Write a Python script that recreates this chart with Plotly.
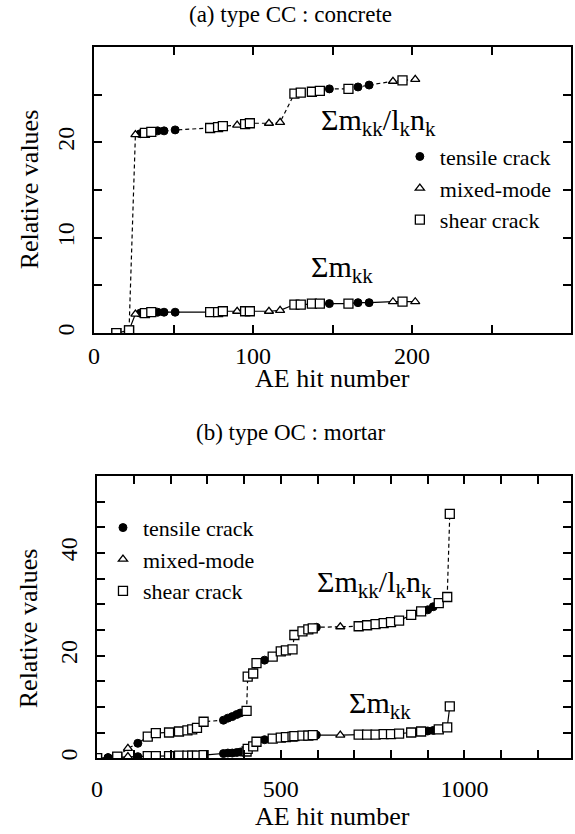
import plotly.graph_objects as go

# ---- panel (a): type CC, concrete ----
a_hits = [14, 22, 26, 29, 32, 36, 40, 44, 51, 73, 78, 81, 90, 95, 98, 110, 117,
          126, 130, 137, 142, 148, 160, 166, 173, 188, 194, 202]
a_type = ["S", "S", "M", "T", "S", "S", "T", "T", "T", "S", "S", "S", "M", "S", "S", "M", "M",
          "S", "S", "S", "S", "T", "S", "T", "T", "M", "S", "M"]
a_ratio = [0, 0.3, 20.8, 20.9, 21.0, 21.1, 21.2, 21.2, 21.3, 21.5, 21.6, 21.7, 21.8, 21.9, 22.0, 22.0, 22.1,
           25.1, 25.2, 25.3, 25.4, 25.6, 25.6, 25.8, 26.0, 26.4, 26.5, 26.6]
a_sum = [0, 0.3, 2.0, 2.1, 2.1, 2.2, 2.2, 2.2, 2.2, 2.2, 2.2, 2.3, 2.3, 2.3, 2.3, 2.3, 2.4,
         3.0, 3.0, 3.1, 3.1, 3.1, 3.1, 3.2, 3.2, 3.3, 3.3, 3.3]

# ---- panel (b): type OC, mortar ----
b_hits = [0, 30, 55, 84, 111, 138, 160, 196, 223, 246, 259, 272, 290, 344, 356,
          368, 380, 390, 407, 410, 425, 434, 456, 478, 500, 514, 532, 537, 559, 575,
          587, 597, 662, 712, 735, 758, 780, 800, 822, 855, 882, 900, 915, 930, 953, 960]
b_type = ["S", "T", "S", "M", "T", "S", "S", "S", "S", "S", "S", "S", "S", "T", "T",
          "T", "T", "T", "S", "S", "S", "S", "T", "S", "S", "S", "S", "S", "S", "S",
          "S", "T", "M", "S", "S", "S", "S", "S", "S", "S", "S", "T", "T", "S", "S", "S"]
b_ratio = [0, 0.1, 0.3, 1.9, 2.9, 4.2, 4.9, 5.0, 5.2, 5.4, 5.6, 5.9, 7.1, 7.4, 7.8,
           8.1, 8.5, 8.8, 9.2, 15.9, 16.5, 18.5, 19.1, 19.8, 20.8, 21.0, 21.2, 24.0, 24.7, 25.1,
           25.3, 25.5, 25.6, 25.7, 25.9, 26.1, 26.3, 26.5, 26.8, 27.9, 28.6, 28.9, 29.5, 30.2, 31.4, 47.6]
b_sum = [0, 0.1, 0.2, 0.3, 0.3, 0.4, 0.4, 0.4, 0.5, 0.5, 0.5, 0.5, 0.6, 0.9, 1.0,
         1.0, 1.1, 1.2, 1.3, 1.8, 2.3, 3.2, 3.6, 3.8, 4.0, 4.1, 4.2, 4.3, 4.4, 4.4,
         4.5, 4.5, 4.5, 4.6, 4.6, 4.6, 4.7, 4.7, 4.8, 5.0, 5.2, 5.3, 5.4, 5.6, 6.0, 10.1]

a_xticks = [0, 50, 100, 150, 200, 250, 300]
a_xtext = ["0", "", "100", "", "200", "", ""]
a_yticks = [0, 5, 10, 15, 20, 25, 30]
a_ytext = ["0", "", "10", "", "20", "", ""]
b_xticks = [0, 100, 200, 300, 400, 500, 600, 700, 800, 900, 1000, 1100, 1200]
b_xtext = ["0", "", "", "", "", "500", "", "", "", "", "1000", "", ""]
b_yticks = [0, 5, 10, 15, 20, 25, 30, 35, 40, 45, 50, 55]
b_ytext = ["0", "", "", "", "20", "", "", "", "40", "", "", ""]

crack_types = [("T", "tensile crack"), ("M", "mixed-mode"), ("S", "shear crack")]
FONT = "Liberation Serif"

marker_style = {
    "T": dict(symbol="circle", size=8, color="black", line=dict(color="black", width=1)),
    "M": dict(symbol="triangle-up", size=8, color="white", line=dict(color="black", width=1.3)),
    "S": dict(symbol="square", size=9, color="white", line=dict(color="black", width=1.3)),
}

fig = go.Figure()


def add_series(hits, kinds, values, xa, ya, dash, legend_name, show_legend):
    fig.add_trace(go.Scatter(
        x=hits, y=values, mode="lines", xaxis=xa, yaxis=ya,
        line=dict(color="black", width=1.2, dash=dash),
        showlegend=False, hoverinfo="skip"))
    for code, name in crack_types:
        xs = [h for h, k in zip(hits, kinds) if k == code]
        ys = [v for v, k in zip(values, kinds) if k == code]
        fig.add_trace(go.Scatter(
            x=xs, y=ys, mode="markers", xaxis=xa, yaxis=ya,
            marker=marker_style[code], name=name,
            legend=legend_name, legendgroup=legend_name + code,
            showlegend=show_legend))


add_series(a_hits, a_type, a_sum, "x", "y", "solid", "legend", False)
add_series(a_hits, a_type, a_ratio, "x", "y", "4px,3px", "legend", True)
add_series(b_hits, b_type, b_sum, "x2", "y2", "solid", "legend2", False)
add_series(b_hits, b_type, b_ratio, "x2", "y2", "4px,3px", "legend2", True)

axis_common = dict(
    showline=True, linecolor="black", linewidth=2, mirror="ticks",
    ticks="inside", ticklen=8, tickwidth=1.5, tickcolor="black",
    showgrid=False, zeroline=False, tickmode="array",
    tickfont=dict(family=FONT, size=24, color="black"),
)

W, H = 575, 834
fig.update_layout(
    width=W, height=H,
    margin=dict(l=0, r=0, t=0, b=0),
    paper_bgcolor="white", plot_bgcolor="white",
    font=dict(family=FONT, color="black"),
    xaxis=dict(axis_common, domain=[89 / W, 571 / W], range=[0, 300], anchor="y",
               tickvals=a_xticks, ticktext=a_xtext),
    yaxis=dict(axis_common, domain=[1 - 334 / H, 1 - 47 / H], range=[0, 30], anchor="x",
               tickvals=a_yticks, ticktext=a_ytext, tickangle=-90, ticklabelstandoff=8),
    xaxis2=dict(axis_common, domain=[92 / W, 571 / W], range=[0, 1290], anchor="y2",
                tickvals=b_xticks, ticktext=b_xtext, ticklabelstandoff=8),
    yaxis2=dict(axis_common, domain=[1 - 760 / H, 1 - 477 / H], range=[0, 55], anchor="x2",
                tickvals=b_yticks, ticktext=b_ytext, tickangle=-90, ticklabelstandoff=8),
    legend=dict(x=398 / W, y=1 - 136 / H, xanchor="left", yanchor="top",
                font=dict(family=FONT, size=22), bgcolor="rgba(0,0,0,0)",
                tracegroupgap=5, traceorder="normal"),
    legend2=dict(x=98 / W, y=1 - 508 / H, xanchor="left", yanchor="top",
                 font=dict(family=FONT, size=22), bgcolor="rgba(0,0,0,0)",
                 tracegroupgap=17, traceorder="normal"),
)

title_font = dict(family=FONT, size=23, color="black")
axis_title_font = dict(family=FONT, size=26, color="black")
label_font = dict(family=FONT, size=30, color="black")


def paper_text(text, px, py, font, angle=0):
    fig.add_annotation(text=text, xref="paper", yref="paper",
                       x=px / W, y=1 - py / H, xanchor="center", yanchor="middle",
                       showarrow=False, font=font, textangle=angle)


# panel titles
paper_text("(a) type CC : concrete", 287, 15, title_font)
paper_text("(b) type OC : mortar", 287, 434, title_font)
# axis titles
paper_text("AE hit number", 330, 379, axis_title_font)
paper_text("AE hit number", 330, 818, axis_title_font)
paper_text("Relative values", 24, 190, axis_title_font, angle=-90)
paper_text("Relative values", 23, 630, axis_title_font, angle=-90)

# curve labels
fig.add_annotation(text="\u03a3m<sub>kk</sub>/l<sub>k</sub>n<sub>k</sub>", xref="x", yref="y",
                   x=179, y=22.1, showarrow=False, font=label_font)
fig.add_annotation(text="\u03a3m<sub>kk</sub>", xref="x", yref="y",
                   x=156, y=6.7, showarrow=False, font=label_font)
fig.add_annotation(text="\u03a3m<sub>kk</sub>/l<sub>k</sub>n<sub>k</sub>", xref="x2", yref="y2",
                   x=754, y=34.0, showarrow=False, font=label_font)
fig.add_annotation(text="\u03a3m<sub>kk</sub>", xref="x2", yref="y2",
                   x=770, y=10.3, showarrow=False, font=label_font)

fig.write_html("out.html")
